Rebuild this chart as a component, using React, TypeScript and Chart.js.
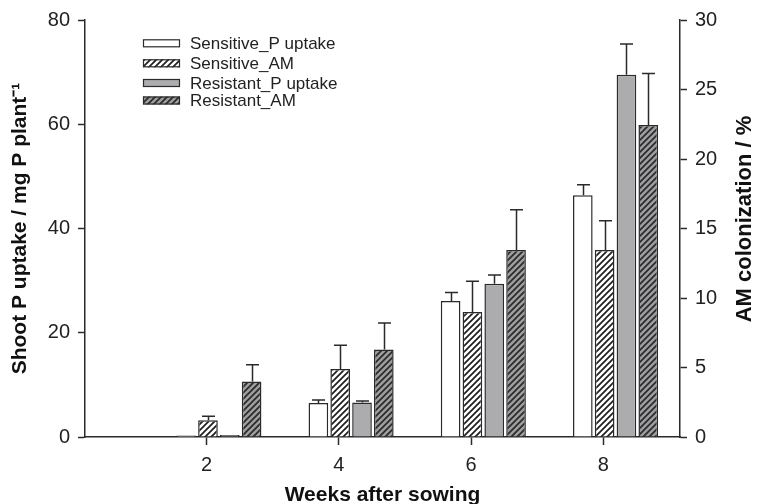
import React, { useEffect, useRef } from 'react';
import { Chart, registerables } from 'chart.js';

Chart.register(...registerables);

// ---- Data ----
const weeks = [2, 4, 6, 8];
const xTickValues = [2, 4, 6, 8];
const leftTickStep = 20;
const rightTickStep = 5;

const sensitivePUptake = [0.3, 6.5, 26.1, 46.4];
const sensitivePUptakeErr = [0, 0.6, 1.6, 2.0];
const sensitiveAM = [1.2, 4.9, 9.0, 13.45];
const sensitiveAMErr = [0.3, 1.7, 2.2, 2.1];
const resistantPUptake = [0.4, 6.6, 29.4, 69.5];
const resistantPUptakeErr = [0, 0.3, 1.7, 5.9];
const resistantAM = [4.0, 6.3, 13.45, 22.45];
const resistantAMErr = [1.2, 1.9, 2.9, 3.7];

const seriesLabels = ['Sensitive_P uptake', 'Sensitive_AM', 'Resistant_P uptake', 'Resistant_AM'];
const rightTitle = 'AM colonization / %';

// group is drawn slightly right of the tick (tick sits under the 2nd bar)
const GROUP_OFFSET = 0.185;

const FONT = '"Liberation Sans", Arial, Helvetica, sans-serif';
const INK = '#2a2a2a';
const GRAY = '#acacae';

function makeHatch(bg: string, line: string) {
  const size = 6;
  const c = document.createElement('canvas');
  c.width = size;
  c.height = size;
  const ctx = c.getContext('2d')!;
  ctx.fillStyle = bg;
  ctx.fillRect(0, 0, size, size);
  ctx.strokeStyle = line;
  ctx.lineWidth = 1.7;
  ctx.beginPath();
  ctx.moveTo(-1, size + 1);
  ctx.lineTo(size + 1, -1);
  ctx.moveTo(-2, 2);
  ctx.lineTo(2, -2);
  ctx.moveTo(size - 2, size + 2);
  ctx.lineTo(size + 2, size - 2);
  ctx.stroke();
  return ctx.createPattern(c, 'repeat')!;
}

const errorBarPlugin = {
  id: 'errorBars',
  afterDatasetsDraw(chart: any) {
    const ctx = chart.ctx;
    ctx.save();
    ctx.strokeStyle = INK;
    ctx.lineWidth = 1.5;
    chart.data.datasets.forEach((ds: any, di: number) => {
      const meta = chart.getDatasetMeta(di);
      const yScale = chart.scales[meta.yAxisID];
      meta.data.forEach((el: any, i: number) => {
        const err = ds.errors[i];
        if (!err) return;
        const v = ds.data[i].y;
        const top = yScale.getPixelForValue(v + err);
        const x = Math.round(el.x) + 0.5;
        ctx.beginPath();
        ctx.moveTo(x, el.y);
        ctx.lineTo(x, top);
        ctx.moveTo(x - 6.5, top);
        ctx.lineTo(x + 6.5, top);
        ctx.stroke();
      });
    });
    ctx.restore();
  },
};

const legendPlugin = {
  id: 'insideLegend',
  afterDraw(chart: any) {
    const ctx = chart.ctx;
    ctx.save();
    const x0 = 143;
    const rows = [43.3, 63.3, 83, 100.5];
    chart.data.datasets.forEach((ds: any, i: number) => {
      const cy = rows[i];
      ctx.fillStyle = ds.backgroundColor;
      ctx.fillRect(x0, cy - 4, 37, 8);
      ctx.strokeStyle = INK;
      ctx.lineWidth = 1.2;
      ctx.strokeRect(x0 + 0.5, cy - 3.5, 36, 7);
      ctx.fillStyle = '#222';
      ctx.font = `17px ${FONT}`;
      ctx.textBaseline = 'middle';
      ctx.textAlign = 'left';
      ctx.fillText(ds.label, 190, cy + 1);
    });
    // right-axis title, reading bottom-to-top like the left one
    ctx.translate(745, 219);
    ctx.rotate(-Math.PI / 2);
    ctx.fillStyle = '#111';
    ctx.font = `bold 22px ${FONT}`;
    ctx.textAlign = 'center';
    ctx.textBaseline = 'middle';
    ctx.fillText(rightTitle, 0, 0);
    ctx.restore();
  },
};

export default function App() {
  const ref = useRef<HTMLCanvasElement | null>(null);

  useEffect(() => {
    if (!ref.current) return;
    const hatchWhite = makeHatch('#ffffff', '#1e1e1e');
    const hatchGray = makeHatch('#9e9ea0', '#2a2a2a');

    const pts = (arr: number[]) => arr.map((v, i) => ({ x: weeks[i] + GROUP_OFFSET, y: v }));

    const tickFont = { family: FONT, size: 20 };
    const titleFont = { family: FONT, size: 21, weight: 'bold' as const };

    const chart = new Chart(ref.current, {
      type: 'bar',
      data: {
        datasets: [
          {
            label: seriesLabels[0],
            data: pts(sensitivePUptake),
            errors: sensitivePUptakeErr,
            backgroundColor: '#ffffff',
            yAxisID: 'y',
          } as any,
          {
            label: seriesLabels[1],
            data: pts(sensitiveAM),
            errors: sensitiveAMErr,
            backgroundColor: hatchWhite,
            yAxisID: 'y1',
          } as any,
          {
            label: seriesLabels[2],
            data: pts(resistantPUptake),
            errors: resistantPUptakeErr,
            backgroundColor: GRAY,
            yAxisID: 'y',
          } as any,
          {
            label: seriesLabels[3],
            data: pts(resistantAM),
            errors: resistantAMErr,
            backgroundColor: hatchGray,
            yAxisID: 'y1',
          } as any,
        ],
      },
      options: {
        animation: false,
        responsive: false,
        maintainAspectRatio: false,
        layout: { padding: { top: 20, left: 0, right: 0, bottom: 0 } },
        datasets: {
          bar: {
            borderColor: INK,
            borderWidth: 1.5,
            borderSkipped: 'start',
            categoryPercentage: 0.66,
            barPercentage: 0.9,
          },
        },
        plugins: {
          legend: { display: false },
          tooltip: { enabled: false },
        },
        scales: {
          x: {
            type: 'linear',
            offset: false,
            min: 0.16,
            max: 9.16,
            afterBuildTicks: (axis: any) => {
              axis.ticks = xTickValues.map((v) => ({ value: v }));
            },
            afterFit: (s: any) => {
              s.height = 67;
            },
            grid: {
              display: true,
              offset: false,
              drawOnChartArea: false,
              drawTicks: true,
              tickLength: 8,
              tickWidth: 1.5,
              tickColor: INK,
            },
            border: { display: true, color: INK, width: 1.5 },
            ticks: {
              font: tickFont,
              color: '#222',
              padding: 8,
              maxRotation: 0,
              callback: (v: any) => String(v),
            },
            title: {
              display: true,
              text: 'Weeks after sowing',
              font: titleFont,
              color: '#111',
              padding: { top: 0, bottom: -3.5 },
            },
          },
          y: {
            type: 'linear',
            position: 'left',
            min: 0,
            max: 80,
            afterFit: (s: any) => {
              s.width = 85;
            },
            grid: {
              display: true,
              drawOnChartArea: false,
              drawTicks: true,
              tickLength: 7,
              tickWidth: 1.5,
              tickColor: INK,
            },
            border: { display: true, color: INK, width: 1.5 },
            ticks: { stepSize: leftTickStep, font: tickFont, color: '#222', padding: 8 },
            title: {
              display: true,
              text: 'Shoot P uptake / mg P plant⁻¹',
              font: titleFont,
              color: '#111',
              padding: { top: 8, bottom: 0 },
            },
          },
          y1: {
            type: 'linear',
            position: 'right',
            min: 0,
            max: 30,
            afterFit: (s: any) => {
              s.width = 91;
            },
            grid: {
              display: true,
              drawOnChartArea: false,
              drawTicks: true,
              tickLength: 7,
              tickWidth: 1.5,
              tickColor: INK,
            },
            border: { display: true, color: INK, width: 1.5 },
            ticks: { stepSize: rightTickStep, font: tickFont, color: '#222', padding: 8 },
            title: { display: false },
          },
        },
      } as any,
      plugins: [errorBarPlugin, legendPlugin],
    });

    return () => chart.destroy();
  }, []);

  return (
    <div style={{ position: 'absolute', left: 0, top: 0, width: 771, height: 504, background: '#fff' }}>
      <canvas ref={ref} width={771} height={504} style={{ width: 771, height: 504, display: 'block' }} />
    </div>
  );
}
